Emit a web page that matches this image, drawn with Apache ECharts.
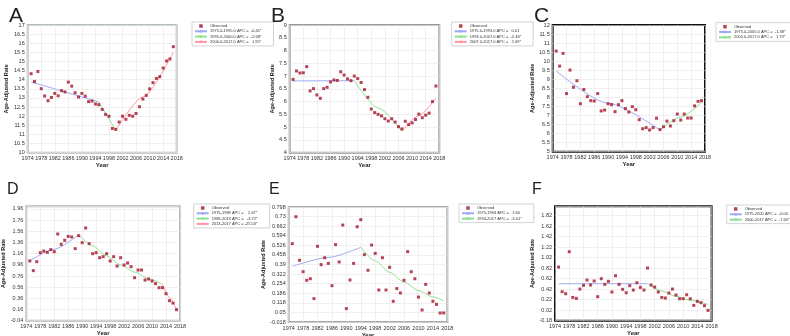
<!DOCTYPE html>
<html><head><meta charset="utf-8">
<script src="https://cdn.jsdelivr.net/npm/echarts@6/dist/echarts.min.js"></script>
<style>html,body{margin:0;padding:0;background:#fff}#c{width:790px;height:336px}</style>
</head><body><div id="c"></div><script>
const years = [1975,1976,1977,1978,1979,1980,1981,1982,1983,1984,1985,1986,1987,1988,1989,1990,1991,1992,1993,1994,1995,1996,1997,1998,1999,2000,2001,2002,2003,2004,2005,2006,2007,2008,2009,2010,2011,2012,2013,2014,2015,2016,2017];
const xTickYears = [1974,1978,1982,1986,1990,1994,1998,2002,2006,2010,2014,2018];

const obsA = [14.33,13.9,14.45,13.51,13.11,12.85,13.03,13.25,13.12,13.4,13.33,13.87,13.65,13.29,13.05,13.25,13.1,12.8,12.83,12.67,12.63,12.37,12.1,12.0,11.33,11.28,11.68,12.0,11.83,12.05,12.0,12.15,12.52,12.94,13.14,13.5,13.84,14.07,14.17,14.64,15.03,15.14,15.81];
const fitA1 = [[1975,13.88],[1995,12.78]];
const fitA2 = [[1995,12.78],[2000,11.22]];
const fitA3 = [[2000,11.22],[2008,13.05],[2017,15.5]];
const namesA = ['1975.0-1995.0 APC =  -0.41*','1995.0-2000.0 APC =  -2.68*','2000.0-2017.0 APC =   1.95*'];

const obsB = [6.87,7.2,7.12,7.13,7.37,6.42,6.51,6.26,6.13,6.51,6.56,6.77,6.85,6.83,7.17,7.04,6.89,6.82,7.0,6.9,6.75,6.47,6.17,5.71,5.57,5.5,5.44,5.33,5.24,5.33,5.2,5.02,4.93,5.23,5.1,5.17,5.3,5.51,5.37,5.47,5.55,6.0,6.61];
const fitB1 = [[1975,6.81],[1993,6.82]];
const fitB2 = [[1993,6.82],[2000,5.75],[2007,4.85]];
const fitB3 = [[2007,4.85],[2012,5.45],[2017,6.15]];
const namesB = ['1975.0-1993.0 APC =   0.01','1993.0-2007.0 APC =  -2.46*','2007.0-2017.0 APC =   2.49*'];

const obsC = [10.56,9.73,10.43,8.21,9.51,8.56,8.92,7.65,8.44,8.04,7.82,7.8,8.21,7.25,7.3,7.65,7.6,7.21,7.6,7.82,7.38,7.19,7.49,7.32,6.77,6.27,6.33,6.2,6.33,6.85,6.22,6.38,6.69,6.42,6.71,7.08,6.75,7.08,6.86,6.86,7.53,7.78,7.82];
const fitC1 = [[1975,9.46],[1990,7.68],[2005,6.2]];
const fitC2 = [[2005,6.2],[2011,6.92],[2017,7.71]];
const namesC = ['1975.0-2005.0 APC =  -1.38*','2005.0-2017.0 APC =   1.73*'];

const obsD = [1.03,0.856,1.017,1.178,1.208,1.184,1.232,1.196,1.512,1.327,1.399,1.47,1.459,1.25,1.482,1.357,1.62,1.339,1.16,1.178,1.088,1.106,1.16,1.029,1.106,0.939,1.088,0.957,0.993,0.927,0.73,0.867,0.867,0.688,0.706,0.67,0.623,0.551,0.551,0.444,0.318,0.276,0.157];
const fitD1 = [[1975,1.03],[1982,1.24],[1989,1.5]];
const fitD2 = [[1989,1.5],[1993,1.3],[1997,1.12],[2001,0.96],[2005,0.83],[2009,0.71],[2013,0.61]];
const fitD3 = [[2013,0.61],[2015,0.37],[2017,0.16]];
const namesD = ['1975-1989 APC =    2.67*','1989-2013 APC =   -3.72*','2013-2017 APC = -25.53*'];

const obsE = [0.538,0.729,0.42,0.339,0.278,0.289,0.148,0.519,0.389,0.438,0.398,0.24,0.531,0.408,0.67,0.077,0.28,0.398,0.658,0.708,0.46,0.349,0.528,0.469,0.209,0.438,0.209,0.37,0.129,0.219,0.188,0.278,0.481,0.339,0.289,0.159,0.067,0.249,0.188,0.129,0.107,0.046,0.046];
const fitE1 = [[1975,0.377],[1985,0.44],[1994,0.512]];
const fitE2 = [[1994,0.512],[1998,0.415],[2002,0.335],[2006,0.265],[2010,0.205],[2014,0.16],[2017,0.133]];
const namesE = ['1975-1994 APC =   1.60','1994-2017 APC =  -5.01*'];

const obsF = [0.842,0.372,0.334,1.134,0.264,0.245,0.423,0.493,0.595,0.5,0.576,0.277,0.62,0.512,0.57,0.366,0.677,0.512,0.417,0.353,0.487,0.404,0.544,0.455,0.404,0.823,0.5,0.461,0.366,0.264,0.252,0.347,0.423,0.309,0.239,0.239,0.315,0.239,0.112,0.188,0.163,0.106,0.017];
const fitF1 = [[1975,0.525],[2000,0.525]];
const fitF2 = [[2000,0.525],[2004,0.385],[2008,0.285],[2012,0.21],[2017,0.13]];
const namesF = ['1975-2000 APC =  -0.00','2000-2017 APC =  -7.60*'];

const yTicksA = {min:10, max:17, interval:0.5};
const yTicksB = {min:4, max:9, interval:0.5};
const yTicksC = {min:5, max:12, interval:0.5};
const yTicksD = {first:-0.04, step:0.2, last:1.96, top:2.008};
const yTicksE = {first:-0.018, step:0.068, last:0.798, top:0.798};
const yTicksF = {first:-0.18, step:0.2, last:1.82, top:2.0};

const OBS_COLOR = '#a3172c';
const FIT_COLORS = ['#9fa9f5','#8fe08f','#ff96a6'];
const FONT = 'Liberation Sans, Arial, sans-serif';

const panels = [
  {letter:'A', lx:4, ly:1, lfs:21, obs:obsA, fits:[fitA1,fitA2,fitA3], names:namesA, yt:yTicksA,
   grid:{left:27.7, top:25, width:149, height:127.7}, border:'#b4bebe', legend:{left:192, top:22}, yGap:18},
  {letter:'B', lx:266, ly:1, lfs:21, obs:obsB, fits:[fitB1,fitB2,fitB3], names:namesB, yt:yTicksB,
   grid:{left:289.7, top:25, width:149.6, height:127.7}, border:'#9a9a9a', legend:{left:451.7, top:22}, yGap:14},
  {letter:'C', lx:529, ly:1, lfs:21, obs:obsC, fits:[fitC1,fitC2], names:namesC, yt:yTicksC,
   grid:{left:552.7, top:25, width:152.3, height:126.7}, border:'#111', legend:{left:716, top:22.7}, yGap:13},
  {letter:'D', lx:2, ly:177, lfs:16, obs:obsD, fits:[fitD1,fitD2,fitD3], names:namesD, yt:yTicksD,
   grid:{left:26.3, top:206.3, width:153.7, height:114.4}, border:'#b8b8b8', legend:{left:193.7, top:204}, yGap:17},
  {letter:'E', lx:264, ly:177, lfs:16, obs:obsE, fits:[fitE1,fitE2], names:namesE, yt:yTicksE,
   grid:{left:288.7, top:207, width:158.6, height:115}, border:'#a8a8a8', legend:{left:459, top:204}, yGap:19},
  {letter:'F', lx:527, ly:177, lfs:16, obs:obsF, fits:[fitF1,fitF2], names:namesF, yt:yTicksF,
   grid:{left:555, top:206.3, width:156.6, height:114.4}, border:'#111', legend:{left:726.7, top:205}, yGap:16}
];

const option = {
  animation:false,
  backgroundColor:'#fff',
  title:[], grid:[], xAxis:[], yAxis:[], legend:[], series:[]
};

const X0 = xTickYears[0];
const dec = v => { const s = String(v); return s.indexOf('.')<0 ? 0 : s.split('.')[1].length; };
const SQUARE_ICON = 'path://M0,0L10,0L10,10L0,10Z';

panels.forEach((p, i) => {
  option.title.push({text:p.letter, left:p.lx, top:p.ly,
    textStyle:{fontFamily:FONT, fontSize:p.lfs, fontWeight:'normal', color:'#222'}});
  option.grid.push(Object.assign({show:true, borderColor:p.border, borderWidth:2, backgroundColor:'#fff', outerBoundsMode:'none'}, p.grid));
  option.xAxis.push({
    type:'value', gridIndex:i, min:0, max:xTickYears[xTickYears.length-1]-X0, interval:xTickYears[1]-xTickYears[0],
    name:'Year', nameLocation:'middle', nameGap:8,
    nameTextStyle:{fontFamily:FONT, fontSize:6, fontWeight:'bold', color:'#222'},
    axisLine:{show:false}, axisTick:{show:false},
    axisLabel:{fontFamily:FONT, fontSize:5.5, color:'#333', margin:3, formatter:v=>String(Math.round(v+X0))},
    splitLine:{show:true, lineStyle:{color:'#e6e6e6', width:0.6}}
  });
  const yt = p.yt;
  let yAxis;
  let yOff = 0;
  if (yt.first === undefined) {
    yAxis = {min:yt.min, max:yt.max, interval:yt.interval,
      axisLabel:{formatter:v=>String(parseFloat(v.toFixed(2)))}};
  } else {
    yOff = -yt.first;
    const d = dec(yt.step) > dec(yt.first) ? dec(yt.step) : dec(yt.first);
    yAxis = {min:0, max:yt.top - yt.first, interval:yt.step,
      axisLabel:{formatter:v=>{ const r = v - yOff; if (r > yt.last + 1e-6) return ''; return String(parseFloat(r.toFixed(d))); }}};
    if (p.letter === 'D' || p.letter === 'F') {
      yAxis.axisLabel.formatter = v=>{ const r = v - yOff; if (r > yt.last + 1e-6) return ''; return r.toFixed(2); };
    }
  }
  yAxis.axisLabel = Object.assign({fontFamily:FONT, fontSize:5.5, color:'#333', margin:3}, yAxis.axisLabel);
  option.yAxis.push(Object.assign({
    type:'value', gridIndex:i,
    name:'Age-Adjusted Rate', nameLocation:'middle', nameGap:p.yGap,
    nameTextStyle:{fontFamily:FONT, fontSize:5.5, fontWeight:'bold', color:'#222'},
    axisLine:{show:false}, axisTick:{show:false},
    splitLine:{show:true, lineStyle:{color:'#e6e6e6', width:0.6}}
  }, yAxis));

  option.series.push({
    type:'scatter', name:'Observed', xAxisIndex:i, yAxisIndex:i,
    symbol:'rect', symbolSize:3, z:3,
    itemStyle:{color:OBS_COLOR},
    data: years.map((y,k)=>[y - X0, p.obs[k] + yOff])
  });
  p.fits.forEach((f, j) => {
    option.series.push({
      type:'line', name:p.names[j], xAxisIndex:i, yAxisIndex:i,
      symbol:'none', smooth:0.25, smoothMonotone:'x', z:2,
      lineStyle:{color:FIT_COLORS[j], width:1}, itemStyle:{color:FIT_COLORS[j]},
      data: f.map(pt=>[pt[0]-X0, pt[1]+yOff])
    });
  });
  option.legend.push({
    left:p.legend.left, top:p.legend.top, orient:'vertical',
    data:[{name:'Observed', icon:SQUARE_ICON}].concat(p.names.map(n=>({name:n}))),
    itemWidth:12, itemHeight:3.5, itemGap:1.3, symbolKeepAspect:true,
    padding:[2,12,2,2], borderColor:'#c8c8c8', borderWidth:0.8, backgroundColor:'#fff',
    selectedMode:false,
    textStyle:{fontFamily:FONT, fontSize:4, color:'#333', padding:[0,0,0,-2]}
  });
});

const chart = echarts.init(document.getElementById('c'), null, {renderer:'canvas'});
chart.setOption(option);
</script></body></html>
